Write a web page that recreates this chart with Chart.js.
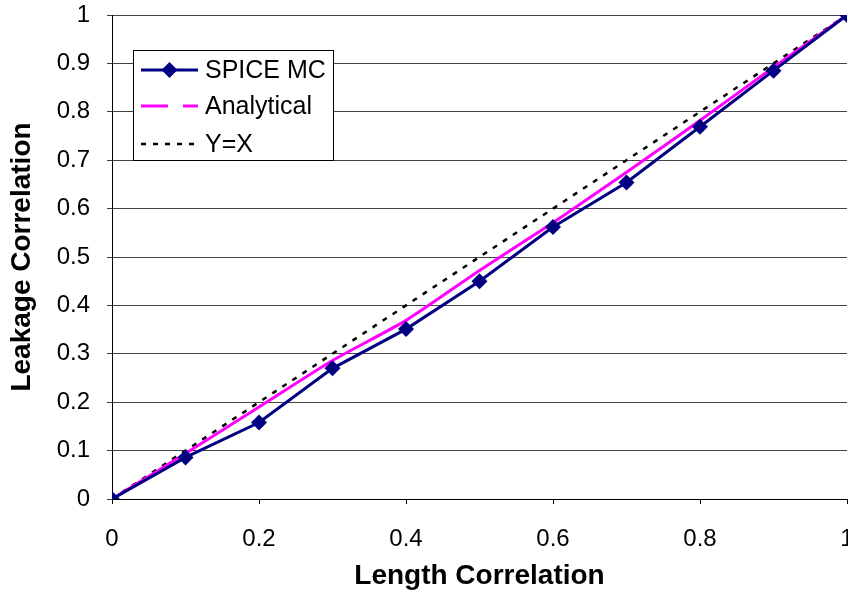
<!DOCTYPE html>
<html>
<head>
<meta charset="utf-8">
<script src="https://cdn.jsdelivr.net/npm/chart.js@4.4.1/dist/chart.umd.min.js"></script>
<style>
  html, body { margin: 0; padding: 0; background: #fff; overflow: hidden; }
  #wrap { width: 848px; height: 593px; position: relative; }
</style>
</head>
<body>
<div id="wrap"><canvas id="corrChart"></canvas></div>
<script>
// длина -> утечка, корреляции
const lengthCorr = [0, 0.1, 0.2, 0.3, 0.4, 0.5, 0.6, 0.7, 0.8, 0.9, 1];
const spiceMC    = [0, 0.086, 0.158, 0.27, 0.351, 0.45, 0.562, 0.654, 0.769, 0.885, 1];
const analytical = [0, 0.094, 0.19, 0.286, 0.369, 0.472, 0.571, 0.675, 0.782, 0.892, 1];
const identity   = [0, 0.1, 0.2, 0.3, 0.4, 0.5, 0.6, 0.7, 0.8, 0.9, 1];

const toXY = ys => lengthCorr.map((x, i) => ({ x, y: ys[i] }));

const FONT = 'Arial, "Liberation Sans", sans-serif';

// легенда в рамке, как в Excel
const boxLegend = {
  id: 'boxLegend',
  afterDraw(chart) {
    const ctx = chart.ctx;
    const x0 = 133.5, y0 = 50.5, w = 200, h = 110;
    ctx.save();
    ctx.fillStyle = '#fff';
    ctx.fillRect(x0, y0, w, h);
    ctx.strokeStyle = '#000';
    ctx.lineWidth = 1;
    ctx.strokeRect(x0, y0, w, h);

    const rows = [70, 106, 144];
    chart.data.datasets.forEach((ds, i) => {
      const y = rows[i];
      ctx.save();
      ctx.strokeStyle = ds.borderColor;
      ctx.lineWidth = ds.borderWidth;
      ctx.setLineDash(ds.legendDash || ds.borderDash || []);
      ctx.beginPath();
      ctx.moveTo(141, y);
      ctx.lineTo(198, y);
      ctx.stroke();
      ctx.restore();
      if (ds.pointRadius > 0) {
        // ромб маркера
        const r = ds.pointRadius;
        ctx.fillStyle = ds.backgroundColor;
        ctx.beginPath();
        ctx.moveTo(169.5, y - r); ctx.lineTo(169.5 + r, y); ctx.lineTo(169.5, y + r); ctx.lineTo(169.5 - r, y);
        ctx.closePath(); ctx.fill();
      }
      ctx.fillStyle = '#000';
      ctx.font = '25px ' + FONT;
      ctx.textBaseline = 'middle';
      ctx.fillText(ds.label, 205, y + 1);
    });
    ctx.restore();
  }
};

// без авто-отступов под подписи: область графика фиксированная
const noPadding = s => { s.paddingLeft = 0; s.paddingRight = 0; s.paddingTop = 0; s.paddingBottom = 0; };

new Chart(document.getElementById('corrChart'), {
  type: 'line',
  data: {
    datasets: [
      {
        label: 'SPICE MC',
        data: toXY(spiceMC),
        borderColor: '#000080',
        backgroundColor: '#000080',
        borderWidth: 3,
        pointStyle: 'rectRot',
        pointRadius: 8,
        pointBorderWidth: 0,
        tension: 0
      },
      {
        label: 'Analytical',
        data: toXY(analytical),
        borderColor: '#ff00ff',
        backgroundColor: '#ff00ff',
        borderWidth: 3,
        legendDash: [27, 15],
        pointRadius: 0,
        tension: 0.2
      },
      {
        label: 'Y=X',
        data: toXY(identity),
        borderColor: '#000',
        backgroundColor: '#000',
        borderWidth: 2.5,
        borderDash: [5, 7],
        pointRadius: 0,
        tension: 0
      }
    ]
  },
  options: {
    responsive: true,
    maintainAspectRatio: false,
    animation: false,
    layout: { autoPadding: false, padding: { top: 15, right: 1, left: 0, bottom: 0 } },
    plugins: { legend: { display: false }, tooltip: { enabled: false } },
    scales: {
      x: {
        type: 'linear',
        min: 0,
        max: 1,
        afterFit: s => { s.height = 94; noPadding(s); },
        border: { color: '#000', width: 1 },
        grid: { drawOnChartArea: false, tickLength: 5, color: '#000' },
        ticks: {
          stepSize: 0.2,
          padding: 21,
          color: '#000',
          font: { family: FONT, size: 24 },
          callback: v => +v.toFixed(1)
        },
        title: {
          display: true,
          text: 'Length Correlation',
          color: '#000',
          font: { family: FONT, size: 28, weight: 'bold' },
          padding: { top: 2, bottom: 0 }
        }
      },
      y: {
        min: 0,
        max: 1,
        afterFit: s => { s.width = 112; noPadding(s); },
        border: { color: '#000', width: 1 },
        grid: { color: '#444', tickLength: 5 },
        ticks: {
          stepSize: 0.1,
          padding: 17,
          color: '#000',
          font: { family: FONT, size: 24 },
          callback: v => +v.toFixed(1)
        },
        title: {
          display: true,
          text: 'Leakage Correlation',
          color: '#000',
          font: { family: FONT, size: 28, weight: 'bold' },
          padding: { top: 5, bottom: 0 }
        }
      }
    }
  },
  plugins: [boxLegend]
});
</script>
</body>
</html>
